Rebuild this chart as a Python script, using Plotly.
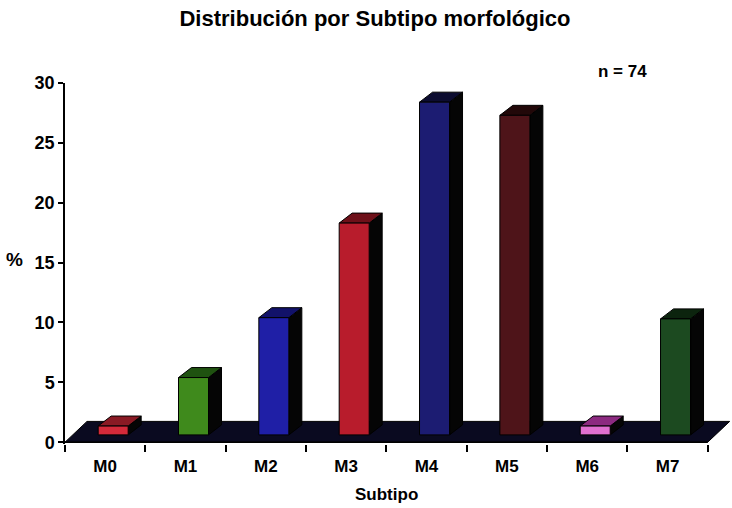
import plotly.graph_objects as go

# ---- data -------------------------------------------------------------
categories = ["M0", "M1", "M2", "M3", "M4", "M5", "M6", "M7"]
percent = [1.35, 5.4, 10.4, 18.3, 28.4, 27.3, 1.35, 10.3]
y_ticks = [0, 5, 10, 15, 20, 25, 30]
sample_label = "n = 74"

# ---- styling ----------------------------------------------------------
front_colors = ["#d42a3a", "#3f8a1c", "#1f1fa6", "#b81c2c",
                "#1c1c72", "#4e1419", "#e070d0", "#1c4a20"]
top_colors = ["#8a1a24", "#1f5210", "#12126a", "#6e1019",
              "#0c0c30", "#220809", "#8c2a80", "#0c240e"]
side_color = "#050505"
floor_color = "#0a0a20"
FONT = "Liberation Sans, Arial, sans-serif"

W, H = 732, 508
M_L, M_R, M_T, M_B = 65, 1, 83, 64
X_RANGE = [-0.5, 7.79]
Y_RANGE = [-0.15, 30]

px_cat = (W - M_L - M_R) / (X_RANGE[1] - X_RANGE[0])
px_val = (H - M_T - M_B) / (Y_RANGE[1] - Y_RANGE[0])

# depth vectors (pixels converted to axis units)
floor_dx, floor_dy = 22 / px_cat, 20.8 / px_val
base_dx, base_dy = 8 / px_cat, 7.3 / px_val
bar_dx, bar_dy = 13 / px_cat, 10 / px_val
bar_w = 30 / px_cat

fig = go.Figure()


def poly(xs, ys, color):
    fig.add_trace(go.Scatter(
        x=list(xs) + [xs[0]], y=list(ys) + [ys[0]],
        mode="lines", fill="toself", fillcolor=color,
        line=dict(color="black", width=1),
        hoverinfo="skip", showlegend=False))


# floor of the 3-D plot
left, right = -0.5, len(categories) - 0.5
poly([left, right, right + floor_dx, left + floor_dx],
     [0, 0, floor_dy, floor_dy], floor_color)

# x-axis baseline
fig.add_trace(go.Scatter(x=[left, right], y=[0, 0], mode="lines",
                         line=dict(color="black", width=1.5),
                         hoverinfo="skip", showlegend=False))

# 3-D columns: side face, top face, front face
for i, v in enumerate(percent):
    xl = i - bar_w / 2 + base_dx
    xr = i + bar_w / 2 + base_dx
    y0 = base_dy
    poly([xr, xr + bar_dx, xr + bar_dx, xr],
         [y0, y0 + bar_dy, v + bar_dy, v], side_color)
    poly([xl, xr, xr + bar_dx, xl + bar_dx],
         [v, v, v + bar_dy, v + bar_dy], top_colors[i])
    poly([xl, xr, xr, xl], [y0, y0, v, v], front_colors[i])


def px_x(p):
    return (p - M_L) / (W - M_L - M_R)


def px_y(p):
    return 1 - (p - M_T) / (H - M_T - M_B)


fig.update_layout(
    width=W, height=H,
    margin=dict(l=M_L, r=M_R, t=M_T, b=M_B, pad=0),
    paper_bgcolor="white", plot_bgcolor="white",
    font=dict(family=FONT, color="black"),
    title=dict(text="<b>Distribución por Subtipo morfológico</b>",
               x=375 / W, xanchor="center", xref="container",
               y=1 - 18 / H, yanchor="middle", yref="container",
               font=dict(size=22, family=FONT, color="black")),
    xaxis=dict(range=X_RANGE, showgrid=False, zeroline=False,
               showline=False, tickmode="array",
               tickvals=list(range(len(categories))),
               ticktext=["<b>%s</b>" % c for c in categories],
               ticks="", ticklabelstandoff=10,
               tickfont=dict(size=17, family=FONT, color="black"),
               minor=dict(tickmode="array",
                          tickvals=[k - 0.5 for k in range(len(categories) + 1)],
                          ticks="outside", ticklen=7, tickwidth=1.5,
                          tickcolor="black", showgrid=False)),
    yaxis=dict(range=Y_RANGE, showgrid=False, zeroline=False,
               showline=True, linecolor="black", linewidth=1.5,
               tickmode="array", tickvals=y_ticks,
               ticktext=["<b>%d</b>" % t for t in y_ticks],
               ticks="outside", ticklen=5, tickwidth=1.5, tickcolor="black",
               tickfont=dict(size=18, family=FONT, color="black")),
    annotations=[
        dict(text="<b>%s</b>" % sample_label, xref="paper", yref="paper",
             x=px_x(622), y=px_y(71), xanchor="center", yanchor="middle",
             showarrow=False, font=dict(size=17, family=FONT)),
        dict(text="<b>Subtipo</b>", xref="paper", yref="paper",
             x=px_x(386), y=px_y(494), xanchor="center", yanchor="middle",
             showarrow=False, font=dict(size=17, family=FONT)),
        dict(text="<b>%</b>", xref="paper", yref="paper",
             x=px_x(14), y=px_y(259), xanchor="center", yanchor="middle",
             showarrow=False, font=dict(size=19, family=FONT)),
    ],
)

fig.write_html("out.html")
